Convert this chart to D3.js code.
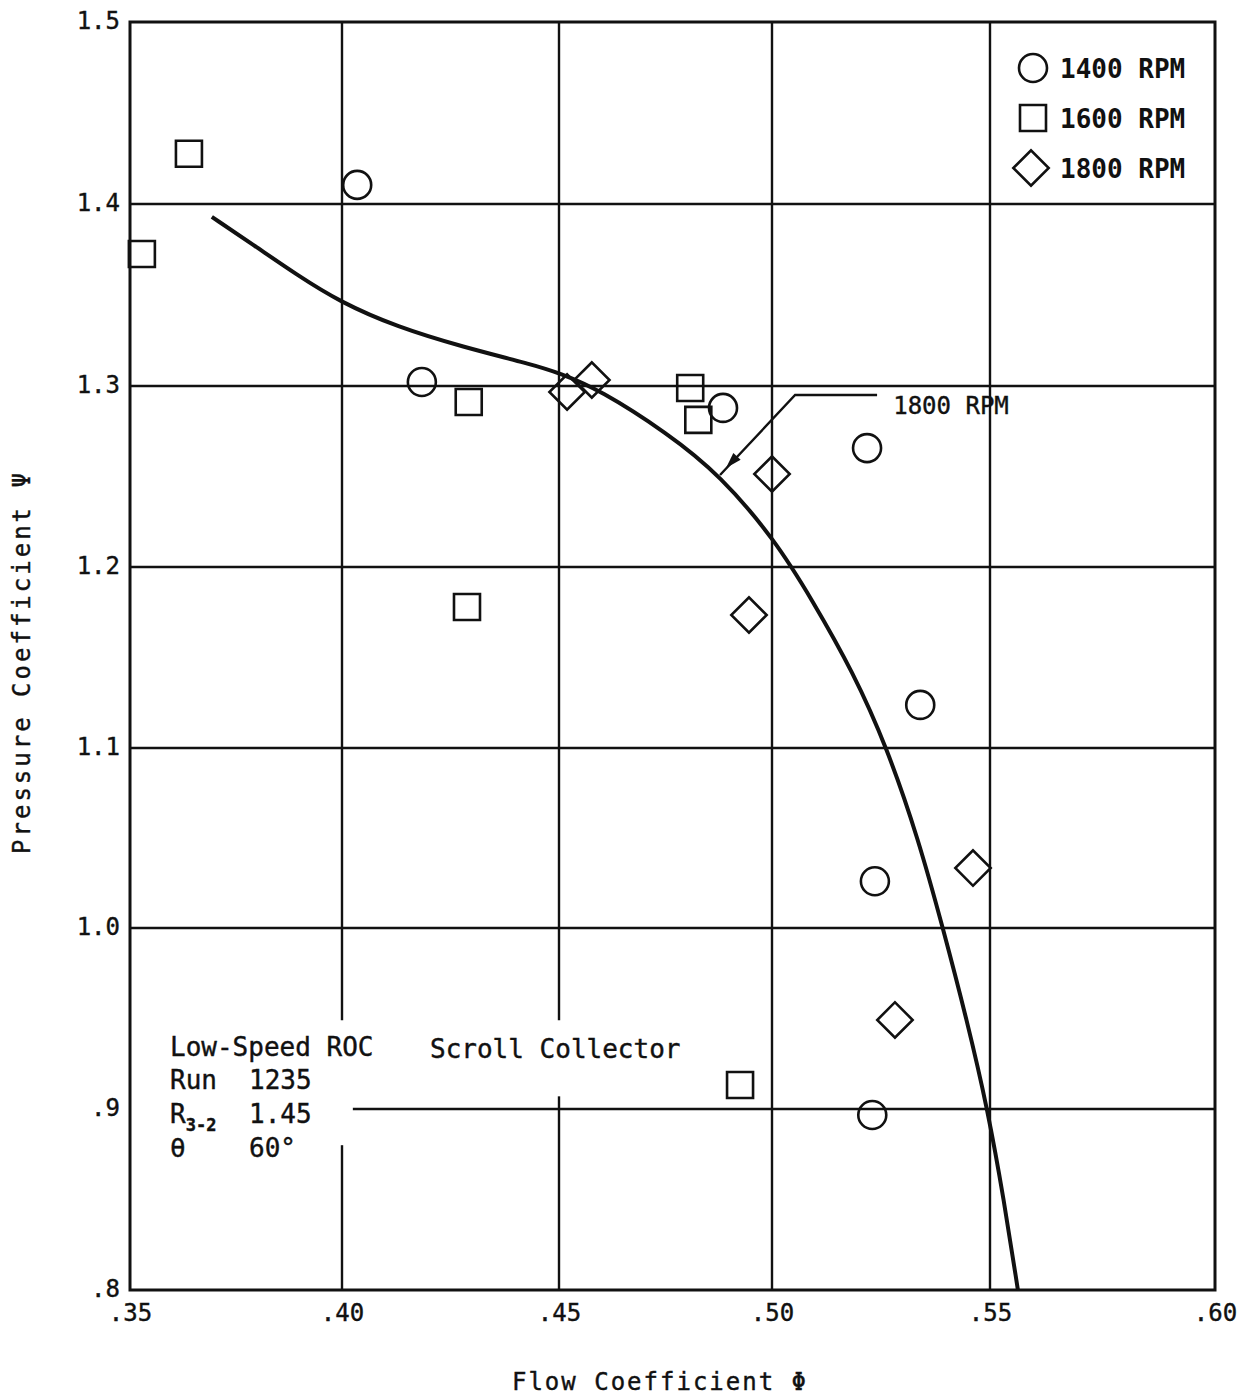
<!DOCTYPE html>
<html>
<head>
<meta charset="utf-8">
<script src="https://cdn.jsdelivr.net/npm/d3@7"></script>
<style>
  body { margin: 0; background: #fff; }
  text { font-family: "DejaVu Sans Mono", "Liberation Mono", monospace; fill: #111; stroke: #111; stroke-width: 0.4px; }
</style>
</head>
<body>
<div id="chart"></div>
<script>
// ticks
var xTicks = [0.35, 0.40, 0.45, 0.50, 0.55, 0.60];
var xTickLabels = [".35", ".40", ".45", ".50", ".55", ".60"];
var yTicks = [0.8, 0.9, 1.0, 1.1, 1.2, 1.3, 1.4, 1.5];
var yTickLabels = [".8", ".9", "1.0", "1.1", "1.2", "1.3", "1.4", "1.5"];

// measured points, [phi, psi]
var rpm1400 = [[0.4035, 1.4105], [0.4184, 1.3022], [0.4885, 1.2879], [0.5218, 1.2657],
               [0.5340, 1.1238], [0.5236, 1.0260], [0.5230, 0.8967]];
var rpm1600 = [[0.3639, 1.4276], [0.3528, 1.3725], [0.4292, 1.2912], [0.4288, 1.1779],
               [0.4808, 1.2989], [0.4827, 1.2813], [0.4925, 0.9133]];
var rpm1800 = [[0.4519, 1.2967], [0.4577, 1.3033], [0.5000, 1.2514], [0.4946, 1.1735],
               [0.5461, 1.0333], [0.5282, 0.9492]];

// faired 1800 RPM curve
var curve1800 = [[0.3693, 1.3929], [0.3795, 1.3769], [0.3894, 1.3610], [0.3995, 1.3462],
                 [0.4127, 1.3324], [0.4279, 1.3214], [0.4433, 1.3121], [0.4502, 1.3071],
                 [0.4596, 1.2978], [0.4754, 1.2740], [0.4878, 1.2508], [0.5007, 1.2149],
                 [0.5092, 1.1818], [0.5186, 1.1420], [0.5264, 1.1000], [0.5335, 1.0500],
                 [0.5392, 1.0000], [0.5447, 0.9492], [0.5495, 0.8994], [0.5531, 0.8497],
                 [0.5562, 0.8000]];

var legendLabels = ["1400 RPM", "1600 RPM", "1800 RPM"];
var noteKeys = ["Run", "R", "θ"];
var noteValues = ["1235", "1.45", "60°"];

var width = 1251, height = 1400;

// the scanned grid is a little uneven, so map each grid line to where it sits
var x = d3.scaleLinear().domain(xTicks).range([130, 342, 559, 772, 990, 1215]);
var y = d3.scaleLinear().domain(yTicks).range([1290, 1109, 928, 748, 567, 386, 204, 22]);

var svg = d3.select("#chart").append("svg")
    .attr("width", width)
    .attr("height", height);

// grid, with the gaps left around the note block
var vGaps = {"0.40": [0.880, 0.949], "0.45": [0.907, 0.949]};
var grid = svg.append("g").attr("stroke", "#111").attr("stroke-width", 2.4);

xTicks.slice(1, -1).forEach(function(t) {
  var gap = vGaps[t.toFixed(2)];
  var segs = gap ? [[0.8, gap[0]], [gap[1], 1.5]] : [[0.8, 1.5]];
  segs.forEach(function(s) {
    grid.append("line")
        .attr("x1", x(t)).attr("x2", x(t))
        .attr("y1", y(s[0])).attr("y2", y(s[1]));
  });
});
yTicks.slice(1, -1).forEach(function(t) {
  var x0 = Math.abs(t - 0.9) < 1e-6 ? 0.4025 : 0.35;
  grid.append("line")
      .attr("x1", x(x0)).attr("x2", x(0.60))
      .attr("y1", y(t)).attr("y2", y(t));
});

// frame
svg.append("rect")
    .attr("x", x(0.35)).attr("y", y(1.5))
    .attr("width", x(0.60) - x(0.35))
    .attr("height", y(0.8) - y(1.5))
    .attr("fill", "none")
    .attr("stroke", "#111")
    .attr("stroke-width", 3);

// axes (labels only)
var xAxis = d3.axisBottom(x).tickValues(xTicks)
    .tickFormat(function(d, i) { return xTickLabels[i]; })
    .tickSize(0).tickPadding(14);
svg.append("g")
    .attr("transform", "translate(0," + y(0.8) + ")")
    .call(xAxis)
    .call(function(g) { g.select(".domain").remove(); })
    .selectAll("text")
    .style("font-family", "'DejaVu Sans Mono', monospace")
    .style("font-size", "24px")
    .attr("fill", "#111");

var yAxis = d3.axisLeft(y).tickValues(yTicks)
    .tickFormat(function(d, i) { return yTickLabels[i]; })
    .tickSize(0).tickPadding(10);
svg.append("g")
    .attr("transform", "translate(" + x(0.35) + ",0)")
    .call(yAxis)
    .call(function(g) { g.select(".domain").remove(); })
    .selectAll("text")
    .style("font-family", "'DejaVu Sans Mono', monospace")
    .style("font-size", "24px")
    .attr("dy", "0.25em")
    .attr("fill", "#111");

// axis titles
svg.append("text")
    .attr("x", 660)
    .attr("y", 1390)
    .attr("text-anchor", "middle")
    .style("font-size", "24px")
    .style("letter-spacing", "2px")
    .text("Flow Coefficient Φ");

svg.append("text")
    .attr("transform", "translate(30,662) rotate(-90)")
    .attr("text-anchor", "middle")
    .style("font-size", "24px")
    .style("letter-spacing", "3px")
    .text("Pressure Coefficient Ψ");

// curve
var line = d3.line()
    .x(function(d) { return x(d[0]); })
    .y(function(d) { return y(d[1]); })
    .curve(d3.curveBasis);

svg.append("path")
    .datum(curve1800)
    .attr("d", line)
    .attr("fill", "none")
    .attr("stroke", "#111")
    .attr("stroke-width", 4);

// markers
var circleSym = d3.symbol().type(d3.symbolCircle).size(Math.PI * 14 * 14);
var squareSym = d3.symbol().type(d3.symbolSquare).size(26 * 26);
var diamondSym = d3.symbol().type(d3.symbolSquare).size(25 * 25);

function drawSeries(data, sym, rot) {
  svg.append("g").selectAll("path")
      .data(data)
    .enter().append("path")
      .attr("d", sym)
      .attr("transform", function(d) {
        return "translate(" + x(d[0]) + "," + y(d[1]) + ")" + (rot ? " rotate(45)" : "");
      })
      .attr("fill", "none")
      .attr("stroke", "#111")
      .attr("stroke-width", 2.6);
}
drawSeries(rpm1400, circleSym, false);
drawSeries(rpm1600, squareSym, false);
drawSeries(rpm1800, diamondSym, true);

// curve label with leader
var tip = [0.4878, 1.2508], elbow = [0.5053, 1.2950], end = [0.5241, 1.2950];
svg.append("path")
    .attr("d", "M" + x(end[0]) + "," + y(end[1]) + "L" + x(elbow[0]) + "," + y(elbow[1]) +
               "L" + x(tip[0]) + "," + y(tip[1]))
    .attr("fill", "none")
    .attr("stroke", "#111")
    .attr("stroke-width", 2.4);
var ang = Math.atan2(y(tip[1]) - y(elbow[1]), x(tip[0]) - x(elbow[0])) * 180 / Math.PI;
svg.append("path")
    .attr("d", "M0,0L-16,-5L-16,5Z")
    .attr("transform", "translate(" + (x(tip[0]) + 6) + "," + (y(tip[1]) - 7) + ") rotate(" + ang + ")")
    .attr("fill", "#111");
svg.append("text")
    .attr("x", x(0.5278))
    .attr("y", y(1.2845))
    .style("font-size", "24px")
    .text("1800 RPM");

// legend
var legend = svg.append("g").attr("transform", "translate(1033,68)");
var legSyms = [[circleSym, false], [squareSym, false], [diamondSym, true]];
legendLabels.forEach(function(lab, i) {
  var g = legend.append("g").attr("transform", "translate(0," + (i * 50) + ")");
  g.append("path")
      .attr("d", legSyms[i][0])
      .attr("transform", legSyms[i][1] ? "translate(-2,0) rotate(45)" : null)
      .attr("fill", "none")
      .attr("stroke", "#111")
      .attr("stroke-width", 2.6);
  g.append("text")
      .attr("x", 27)
      .attr("y", 10)
      .style("font-size", "26px")
      .style("font-weight", "bold")
      .style("stroke-width", "0")
      .text(lab);
});

// note block
var note = svg.append("g").style("font-size", "26px");
note.append("text").attr("x", 170).attr("y", 1056).text("Low-Speed ROC");
note.append("text").attr("x", 430).attr("y", 1058).text("Scroll Collector");
noteKeys.forEach(function(k, i) {
  var yy = 1089 + i * 34;
  var t = note.append("text").attr("x", 170).attr("y", yy).text(k);
  if (k === "R") {
    t.append("tspan").attr("dy", 8).style("font-size", "17px").style("font-weight", "bold").text("3-2");
  }
  note.append("text").attr("x", 249).attr("y", yy).text(noteValues[i]);
});
</script>
</body>
</html>
